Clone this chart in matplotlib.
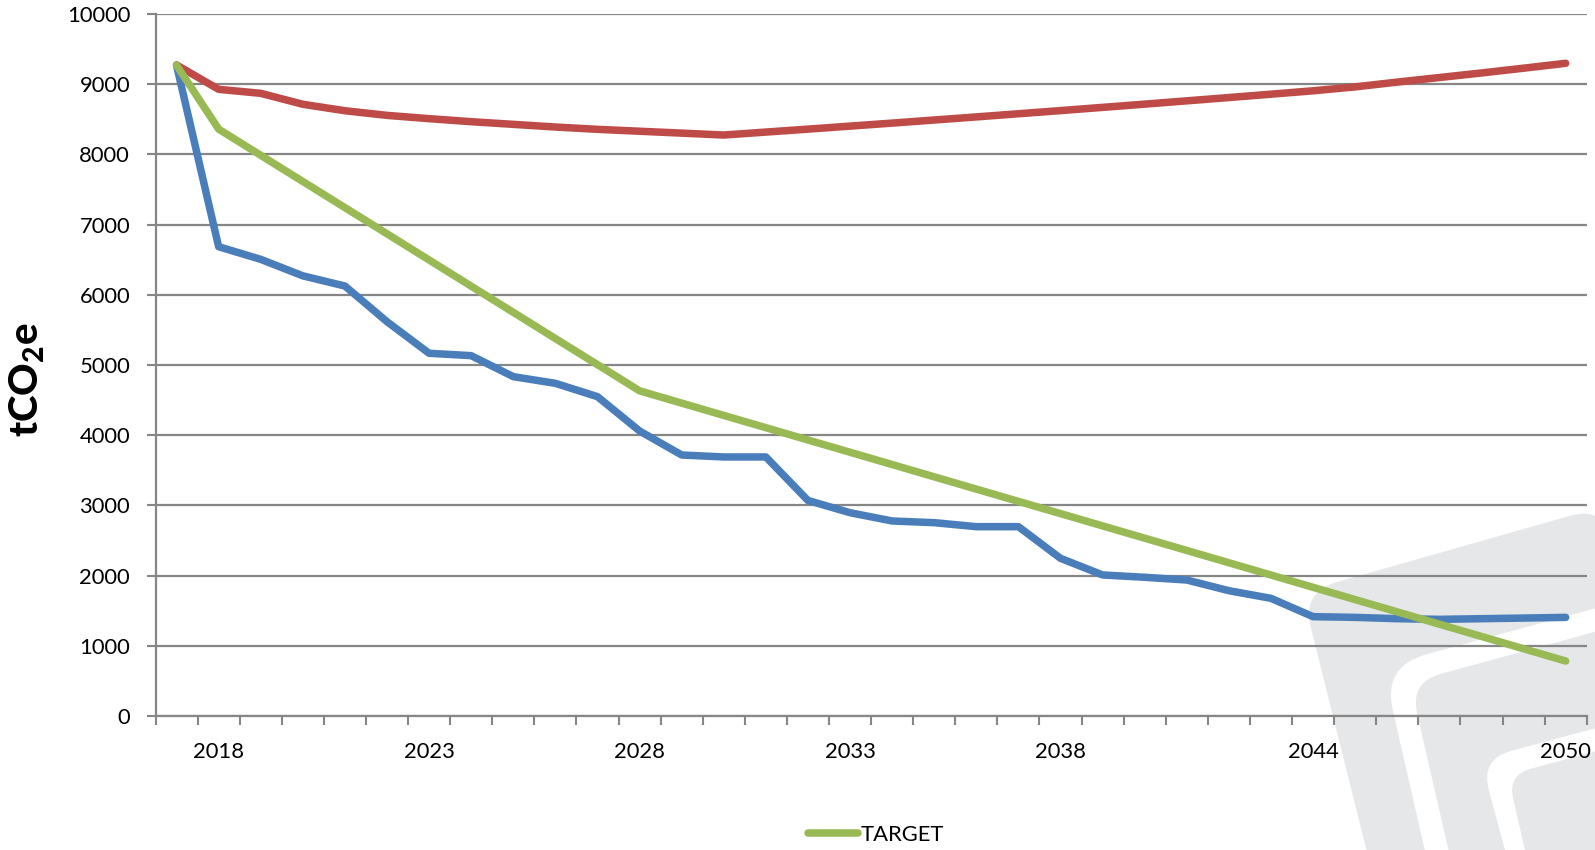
import matplotlib
matplotlib.use("Agg")
import matplotlib.pyplot as plt
import numpy as np
from matplotlib.path import Path
from matplotlib.patches import PathPatch
from matplotlib.lines import Line2D

# ---------------- data ----------------
years = list(range(2017, 2051))
label_years = [2018, 2023, 2028, 2033, 2038, 2044, 2050]

scenario = [9270, 6685, 6505, 6270, 6125, 5617, 5167, 5133, 4834, 4739,
            4549, 4060, 3718, 3690, 3690, 3070, 2896, 2778, 2754, 2697,
            2697, 2246, 2009, 1976, 1937, 1785, 1676, 1415, 1405, 1386,
            1377, 1386, 1395, 1405]

bau = [9274, 8927, 8870, 8714, 8622, 8556, 8509, 8466, 8428, 8390,
       8357, 8330, 8303, 8276, 8318, 8360, 8403, 8446, 8490, 8534,
       8579, 8624, 8670, 8716, 8763, 8810, 8858, 8906, 8962, 9030,
       9095, 9160, 9228, 9298]

target = [9270, 8360, 7987, 7614, 7242, 6869, 6496, 6123, 5750, 5377,
          5005, 4632, 4457, 4282, 4107, 3932, 3757, 3582, 3407, 3232,
          3057, 2883, 2708, 2533, 2358, 2183, 2008, 1833, 1658, 1483,
          1308, 1133, 958, 783]

yticks = list(range(0, 10001, 1000))

# ---------------- style ----------------
plt.rcParams['font.family'] = ['Lato', 'DejaVu Sans']
plt.rcParams['mathtext.fontset'] = 'custom'
plt.rcParams['mathtext.rm'] = 'Lato'
plt.rcParams['mathtext.bf'] = 'Lato:black'

W, H = 1595, 850
fig = plt.figure(figsize=(W / 100, H / 100), dpi=100)
fig.patch.set_facecolor('white')

# ---------------- watermark (background) ----------------
bg = fig.add_axes([0, 0, 1, 1], zorder=0)
bg.set_xlim(0, W)
bg.set_ylim(H, 0)
bg.axis('off')


def rounded_poly(pts, radii):
    verts, codes = [], []
    n = len(pts)
    pts = [np.array(p, dtype=float) for p in pts]
    for i in range(n):
        p = pts[i]
        r = radii[i]
        first = (i == 0)
        if r == 0:
            verts.append(p)
            codes.append(Path.MOVETO if first else Path.LINETO)
        else:
            prv = pts[i - 1]
            nxt = pts[(i + 1) % n]
            d1 = (prv - p) / np.linalg.norm(prv - p)
            d2 = (nxt - p) / np.linalg.norm(nxt - p)
            a = p + r * d1
            b = p + r * d2
            verts.append(a)
            codes.append(Path.MOVETO if first else Path.LINETO)
            verts.append(p)
            codes.append(Path.CURVE3)
            verts.append(b)
            codes.append(Path.CURVE3)
    verts.append(verts[0])
    codes.append(Path.CLOSEPOLY)
    return Path(verts, codes)


gray = '#E6E7E8'
shapes = [
    ([(1302, 592), (1608, 505), (1608, 900), (1379, 900)], [36, 40, 0, 0], gray),
    ([(1382.7, 666.3), (1700, 579.7), (1700, 900), (1436.2, 900)], [45, 0, 0, 0], 'white'),
    ([(1410, 682.3), (1700, 603.1), (1700, 900), (1459.9, 900)], [32, 0, 0, 0], gray),
    ([(1480.5, 759.2), (1700, 700), (1700, 900), (1518.5, 900)], [32, 0, 0, 0], 'white'),
    ([(1507.7, 775), (1700, 723.1), (1700, 900), (1536.5, 900)], [24, 0, 0, 0], gray),
]
for pts, radii, col in shapes:
    bg.add_patch(PathPatch(rounded_poly(pts, radii), facecolor=col,
                           edgecolor='none', zorder=0))

# ---------------- main axes ----------------
left, right, top, bottom = 155.5, 1586.7, 14, 716
ax = fig.add_axes([left / W, 1 - bottom / H, (right - left) / W, (bottom - top) / H],
                  zorder=1)
ax.set_facecolor('none')

x = np.arange(len(years))
lw = 5.4
ax.plot(x, scenario, color='#4A7EBB', lw=lw, solid_capstyle='round',
        solid_joinstyle='round', zorder=3)
ax.plot(x, bau, color='#BE4B48', lw=lw, solid_capstyle='round',
        solid_joinstyle='round', zorder=3)
ax.plot(x, target, color='#98B954', lw=lw, solid_capstyle='round',
        solid_joinstyle='round', zorder=3)

ax.set_xlim(-0.5, len(years) - 0.5)
ax.set_ylim(0, 10000)

gridc = '#868686'
fs = 15.8
ax.set_yticks(yticks)
ax.set_yticklabels([str(v) for v in yticks])
ax.yaxis.grid(True, color=gridc, lw=1.6, zorder=1)
ax.set_axisbelow(True)

# category boundary ticks (major), labels on minor ticks
ax.set_xticks(np.arange(len(years) + 1) - 0.5)
ax.set_xticklabels([])
ax.set_xticks([years.index(yv) for yv in label_years], minor=True)
ax.set_xticklabels([str(yv) for yv in label_years], minor=True)

ax.tick_params(axis='x', which='major', length=6.2, width=1.5, color=gridc,
               direction='out')
ax.tick_params(axis='x', which='minor', length=0, pad=19, labelsize=fs)
ax.tick_params(axis='y', which='major', length=6.3, width=1.5, color=gridc,
               direction='out', pad=12, labelsize=fs)

for s in ['top', 'right']:
    ax.spines[s].set_visible(False)
for s in ['left', 'bottom']:
    ax.spines[s].set_color(gridc)
    ax.spines[s].set_linewidth(1.6)

ax.set_ylabel(r'$\mathbf{tCO_2e}$', fontsize=29)
ax.yaxis.set_label_coords(-0.0755, 0.479)

# legend (only TARGET shown)
h = Line2D([], [], color='#98B954', lw=lw, solid_capstyle='round')
leg = ax.legend([h], ['TARGET'], loc='center left',
                bbox_to_anchor=(808 / W, 1 - 835 / H),
                bbox_transform=fig.transFigure, frameon=False,
                borderpad=0, borderaxespad=0, handlelength=2.3,
                handletextpad=0.12, fontsize=fs)

fig.savefig('out.png', dpi=100, facecolor='white')
